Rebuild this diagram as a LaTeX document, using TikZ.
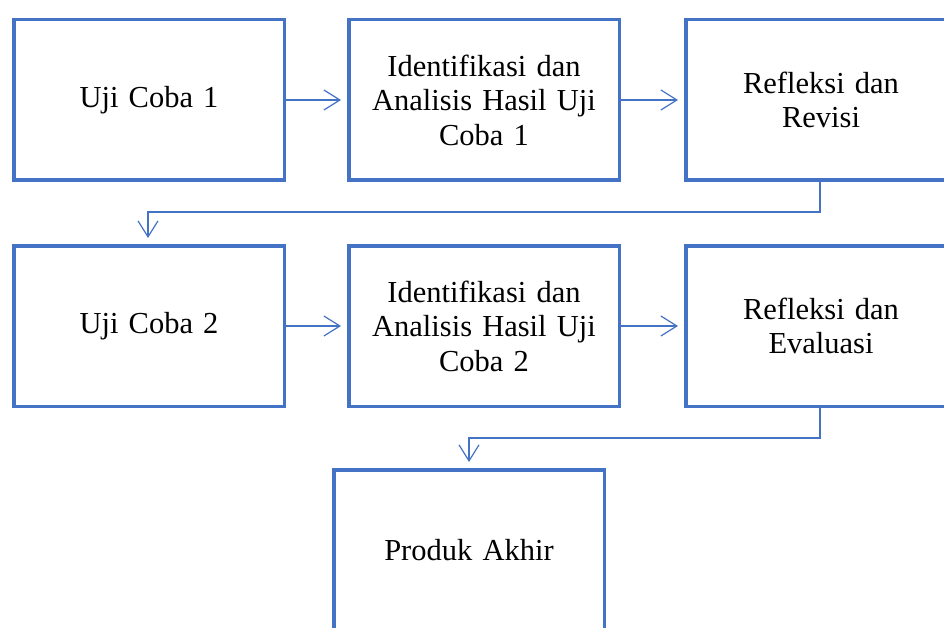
\documentclass[tikz,border=0pt]{standalone}
\usepackage{fontspec}
\setmainfont{Liberation Serif}
\usetikzlibrary{arrows.meta}
\definecolor{boxblue}{HTML}{4472C4}
\begin{document}
\begin{tikzpicture}[x=1pt,y=-1pt,
  stepbox/.style={draw=boxblue, line width=3.5pt, fill=white, minimum width=270.5pt, minimum height=160.5pt,
    inner sep=0pt, align=center, font=\fontsize{30.5}{34.5}\selectfont, text width=250pt},
  conn/.style={draw=boxblue, line width=1.2pt, -{Straight Barb[length=16pt,width=20pt]}, shorten >=6pt}]
\useasboundingbox (0,0) rectangle (944,628);
\node[stepbox] (a) at (149,100) {Uji Coba 1};
\node[stepbox] (b) at (484,100) {Identifikasi dan\\Analisis Hasil Uji\\Coba 1};
\node[stepbox] (c) at (821,100) {Refleksi dan\\Revisi};
\node[stepbox] (d) at (149,326) {Uji Coba 2};
\node[stepbox] (e) at (484,326) {Identifikasi dan\\Analisis Hasil Uji\\Coba 2};
\node[stepbox] (f) at (821,326) {Refleksi dan\\Evaluasi};
\node[stepbox] (g) at (469,550) {Produk Akhir};
\draw[conn] (a) -- (b);
\draw[conn] (b) -- (c);
\draw[conn] (d) -- (e);
\draw[conn] (e) -- (f);
\coordinate (c1) at (820,212);
\coordinate (c2) at (148,212);
\draw[conn] (c.south -| c1) -- (c1) -- (c2) -- (c2 |- d.north);
\coordinate (f1) at (820,438);
\coordinate (f2) at (469,438);
\draw[conn] (f.south -| f1) -- (f1) -- (f2) -- (f2 |- g.north);
\end{tikzpicture}
\end{document}
